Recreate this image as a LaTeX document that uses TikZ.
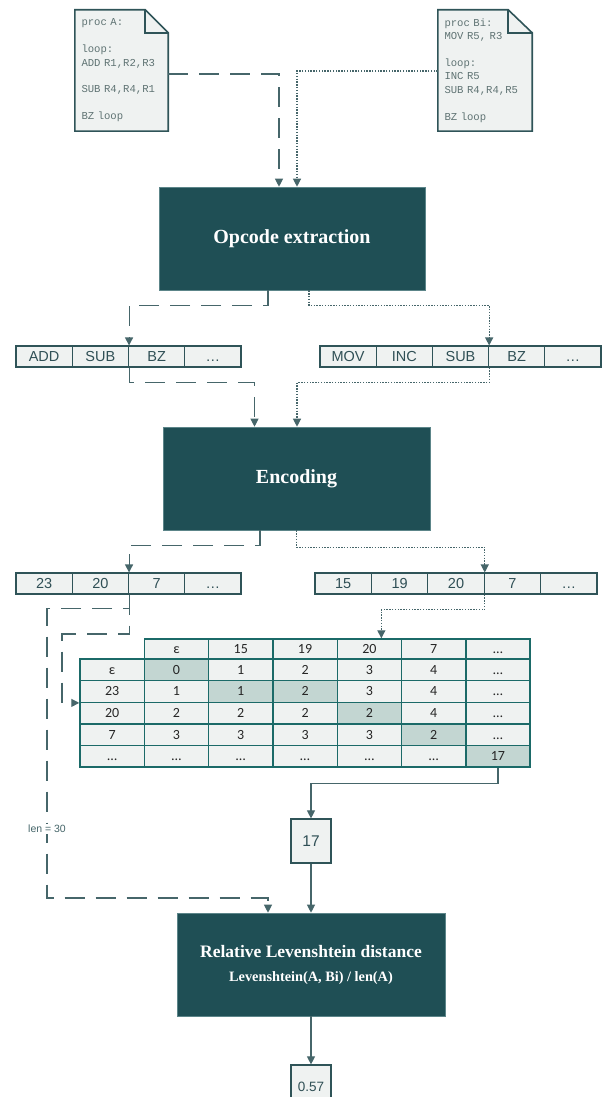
\documentclass[tikz,border=0pt]{standalone}
\usepackage{fontspec}
\setmainfont{Liberation Serif}
\newfontfamily\codefont{Liberation Mono}
\newfontfamily\rowfont{Liberation Sans}
\newfontfamily\tabfont{Carlito}
\usetikzlibrary{arrows.meta,backgrounds}

\definecolor{boxteal}{HTML}{1F4F55}
\definecolor{boxedge}{HTML}{5C8589}
\definecolor{linecol}{HTML}{46666A}
\definecolor{paper}{HTML}{EFF2F1}
\definecolor{celledge}{HTML}{2F5458}
\definecolor{tabedge}{HTML}{1B6A68}
\definecolor{hicol}{HTML}{C3D6D2}
\definecolor{codecol}{HTML}{5F7373}
\definecolor{rowtext}{HTML}{2F4F55}

\tikzset{
  procdoc/.style={text width=80pt, inner xsep=6.5pt, inner ysep=0pt, minimum height=121pt,
    align=left, text=codecol, font=\codefont\fontsize{10.6}{13.4}\selectfont},
  docface/.style={fill=paper, draw=celledge, line width=1.6pt, line join=miter},
  stagebox/.style={fill=boxteal, draw=boxedge, line width=0.6pt, text=white,
    minimum width=266pt, minimum height=103pt, align=center,
    font=\bfseries\fontsize{20}{24}\selectfont},
  opcell/.style={draw=celledge, fill=paper, line width=1.1pt, minimum height=21pt,
    inner sep=0pt, text height=10.4pt, text depth=0pt, text=rowtext,
    font=\rowfont\fontsize{14.5}{15}\selectfont},
  tcell/.style={draw=tabedge, fill=paper, line width=1.4pt, minimum width=64.3pt,
    minimum height=21.6pt, inner sep=0pt, text height=9pt, text depth=0pt, text=black!85,
    font=\tabfont\fontsize{14}{15}\selectfont},
  valbox/.style={draw=celledge, fill=paper, line width=1.2pt, minimum width=40pt,
    minimum height=44pt, inner sep=0pt, text=rowtext, font=\rowfont\fontsize{15.5}{16}\selectfont},
  tip/.style={-{Triangle[length=8pt,width=8pt]}},
  flow/.style={draw=linecol, line width=1.1pt, tip},
  dashflow/.style={flow, dash pattern=on 20pt off 11pt},
  dotflow/.style={flow, line width=1.2pt, dash pattern=on 1.4pt off 1.4pt},
  % highlighted cells of the table
  hl0-1/.style={fill=hicol}, hl1-2/.style={fill=hicol}, hl1-3/.style={fill=hicol},
  hl2-4/.style={fill=hicol}, hl3-5/.style={fill=hicol}, hl4-6/.style={fill=hicol}
}

\begin{document}
\begin{tikzpicture}[x=1pt, y=-1pt]
  \useasboundingbox (0,0) rectangle (602,1097);

  % Draw source listings
  \node[procdoc] (docA) at (121.5,70.5)
    {proc A:\\\mbox{}\\loop:\\ADD R1,R2,R3\\\mbox{}\\SUB R4,R4,R1\\\mbox{}\\BZ loop};
  \node[procdoc, text width=81pt] (docB) at (485,70.5)
    {proc Bi:\\MOV R5, R3\\\mbox{}\\loop:\\INC R5\\SUB R4,R4,R5\\\mbox{}\\BZ loop};
  \begin{scope}[on background layer]
    \filldraw[docface] (docA.north west) -- ([xshift=-23pt]docA.north east)
      -- ([yshift=-23pt]docA.north east) -- (docA.south east) -- (docA.south west) -- cycle;
    \draw[docface, fill=none] ([xshift=-23pt]docA.north east) |- ([yshift=-23pt]docA.north east);
    \filldraw[docface] (docB.north west) -- ([xshift=-24pt]docB.north east)
      -- ([yshift=-23pt]docB.north east) -- (docB.south east) -- (docB.south west) -- cycle;
    \draw[docface, fill=none] ([xshift=-24pt]docB.north east) |- ([yshift=-23pt]docB.north east);
  \end{scope}

  % Draw processing stages
  \node[stagebox] (opc) at (292,238.5) {Opcode extraction};
  \node[stagebox, minimum width=267pt] (enc) at (296.5,478.5) {Encoding};
  \node[stagebox, minimum width=268pt, font=\bfseries\fontsize{17.5}{21}\selectfont] (rld) at (311,964.5)
    {Relative Levenshtein distance\\[3pt]{\fontsize{14.3}{17}\selectfont Levenshtein(A, Bi) / len(A)}};

  % Opcode sequences
  \foreach \t [count=\i from 0] in {ADD,SUB,BZ,…}
    \node[opcell, minimum width=56.25pt] (a\i) at (44.125+56.25*\i,356.5) {\t};
  \foreach \t [count=\i from 0] in {MOV,INC,SUB,BZ,…}
    \node[opcell, minimum width=56.2pt] (b\i) at (348.1+56.2*\i,356.5) {\t};

  % Encoded sequences
  \foreach \t [count=\i from 0] in {23,20,7,…}
    \node[opcell, minimum width=56.25pt] (n\i) at (44.125+56.25*\i,583.5) {\t};
  \foreach \t [count=\i from 0] in {15,19,20,7,…}
    \node[opcell, minimum width=56.4pt] (m\i) at (343.2+56.4*\i,583.5) {\t};

  % Distance table
  \foreach \t [count=\c] in {ε,15,19,20,7,…}
    \node[tcell, minimum height=20pt] (h\c) at (112.15+64.3*\c,649) {\t};
  \foreach \row [count=\r from 0] in {{ε,0,1,2,3,4,…},{23,1,1,2,3,4,…},{20,2,2,2,2,4,…},
      {7,3,3,3,3,2,…},{…,…,…,…,…,…,17}}
    \foreach \v [count=\c from 0] in \row
      \node[tcell, hl\r-\c/.try] (r\r-\c) at (112.15+64.3*\c,669.8+21.6*\r) {\v};

  % Results
  \node[valbox] (seventeen) at (311,841) {17};
  \node[valbox, font=\rowfont\fontsize{13.5}{14}\selectfont] (result) at (311,1087) {0.57};

  % Connectors into the stages
  \draw[dashflow] ([yshift=-3.5pt]docA.east) -| ([xshift=-13pt]opc.north);
  \draw[dotflow] ([yshift=-0.5pt]docB.west) -| ([xshift=5pt]opc.north);
  \draw[dashflow] ([xshift=-24pt]opc.south) -- ++(0,15) -| (a1.north east);
  \draw[dotflow] ([xshift=17pt]opc.south) -- ++(0,15) -| (b2.north east);
  \draw[dashflow] (a1.south east) -- ++(0,15) -| ([xshift=-42pt]enc.north);
  \draw[dotflow] (b2.south east) -- ++(0,15) -| ([xshift=0.5pt]enc.north);
  \draw[dashflow] ([xshift=-36.5pt]enc.south) -- ++(0,15) -| (n1.north east);
  \draw[dotflow] (enc.south) -- ++(0,17) -| (m2.north east);

  % Connectors into the table
  \draw[dotflow] (m2.south east) -- ++(0,15) -| ([xshift=12pt]h4.north);
  \coordinate (bendA) at (62,634);
  \draw[dashflow] (n1.south east) |- (bendA) |- (r1-0.south west);

  % Length of A
  \coordinate (lenA) at (47,898);
  \draw[dashflow] (n1.south east) -- ++(0,14) -| (lenA) -| ([xshift=-43pt]rld.north);
  \node[fill=white, inner sep=1pt, text=linecol, font=\rowfont\fontsize{10.5}{11}\selectfont]
    (lenlbl) at (47,829) {len = 30};

  % Distance to the output
  \draw[flow] (r4-6.south) -- ++(0,16) -| (seventeen.north);
  \draw[flow] (seventeen.south) -- (rld.north);
  \draw[flow] (rld.south) -- (result.north);
\end{tikzpicture}
\end{document}
